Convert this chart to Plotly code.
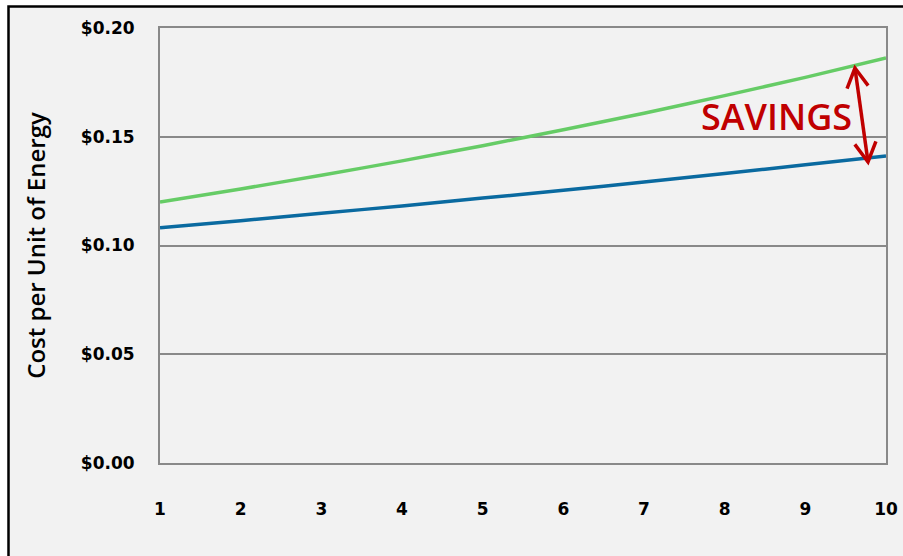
import math
import plotly.graph_objects as go

years = [1, 2, 3, 4, 5, 6, 7, 8, 9, 10]
utility_cost = [0.1200, 0.1260, 0.1323, 0.1389, 0.1459, 0.1532, 0.1608, 0.1689, 0.1773, 0.1862]
solar_cost = [0.1082, 0.1114, 0.1148, 0.1182, 0.1218, 0.1254, 0.1292, 0.1331, 0.1371, 0.1412]
y_ticks = [0.0, 0.05, 0.10, 0.15, 0.20]
y_tick_labels = ["$0.00", "$0.05", "$0.10", "$0.15", "$0.20"]

FONT = "Open Sans"
TICKFONT = "DejaVu Sans"

W, H = 903, 556
ML, MR, MT, MB = 160, 17, 28, 93
XR = [1, 10]
YR = [0, 0.20]
PXX = (W - ML - MR) / (XR[1] - XR[0])
PXY = (H - MT - MB) / (YR[1] - YR[0])

fig = go.Figure()
fig.add_trace(go.Scatter(x=years, y=utility_cost, mode="lines",
                         line=dict(color="#66cc66", width=3.5, shape="spline", smoothing=0.6),
                         showlegend=False))
fig.add_trace(go.Scatter(x=years, y=solar_cost, mode="lines",
                         line=dict(color="#0a6aa0", width=3.5, shape="spline", smoothing=0.6),
                         showlegend=False))

# outer frame
fig.add_shape(type="rect", xref="paper", yref="paper",
              x0=(8.5 - ML) / (W - ML - MR), x1=1.2, y0=-0.4,
              y1=(H - MB - 6.5) / (H - MT - MB),
              fillcolor="#f2f2f2", line=dict(color="black", width=2.5), layer="below")

# savings double arrow (open V heads)
RED = "#c00000"
top_tip = (9.615, 0.1816)
bot_tip = (9.777, 0.1384)


def head(tip, other, length=22, ang=29):
    # pixel-space direction from tip toward other end (screen y down)
    dx = (other[0] - tip[0]) * PXX
    dy = -(other[1] - tip[1]) * PXY
    n = math.hypot(dx, dy)
    ux, uy = dx / n, dy / n
    pts = []
    for s in (-1, 1):
        a = math.radians(ang * s)
        rx = ux * math.cos(a) - uy * math.sin(a)
        ry = ux * math.sin(a) + uy * math.cos(a)
        pts.append((tip[0] + rx * length / PXX, tip[1] - ry * length / PXY))
    return f"M{pts[0][0]},{pts[0][1]} L{tip[0]},{tip[1]} L{pts[1][0]},{pts[1][1]}"


fig.add_shape(type="line", xref="x", yref="y", x0=top_tip[0], y0=top_tip[1],
              x1=bot_tip[0], y1=bot_tip[1], line=dict(color=RED, width=3.5))
fig.add_shape(type="path", xref="x", yref="y", path=head(top_tip, bot_tip),
              line=dict(color=RED, width=3.5))
fig.add_shape(type="path", xref="x", yref="y", path=head(bot_tip, top_tip),
              line=dict(color=RED, width=3.5))

fig.add_annotation(x=9.60, y=0.1595, xref="x", yref="y", text="SAVINGS",
                   showarrow=False, xanchor="right", yanchor="middle",
                   font=dict(family=FONT, size=36, weight=600, color=RED))

fig.update_layout(
    width=W, height=H,
    margin=dict(l=ML, r=MR, t=MT, b=MB, autoexpand=False),
    paper_bgcolor="white", plot_bgcolor="rgba(0,0,0,0)",
    font=dict(family=FONT, color="black"),
    xaxis=dict(range=XR, tickvals=years, ticktext=[str(v) for v in years],
               showgrid=False, zeroline=False, showline=True, linecolor="#898989",
               linewidth=2, mirror=True, ticks="", ticklen=0, automargin=False,
               ticklabelstandoff=30,
               tickfont=dict(family=TICKFONT, size=17, weight="bold", color="black")),
    yaxis=dict(range=YR, tickvals=y_ticks, ticktext=y_tick_labels,
               showgrid=True, gridcolor="#898989", gridwidth=1.5, zeroline=False,
               showline=True, linecolor="#898989", linewidth=2, mirror=True,
               ticks="", ticklabelstandoff=20, automargin=False,
               tickfont=dict(family=TICKFONT, size=17, weight="bold", color="black"),
               title=dict(text="Cost per Unit of Energy", standoff=28,
                          font=dict(family=FONT, size=24, weight=600, color="black"))),
)

fig.write_html("out.html")
